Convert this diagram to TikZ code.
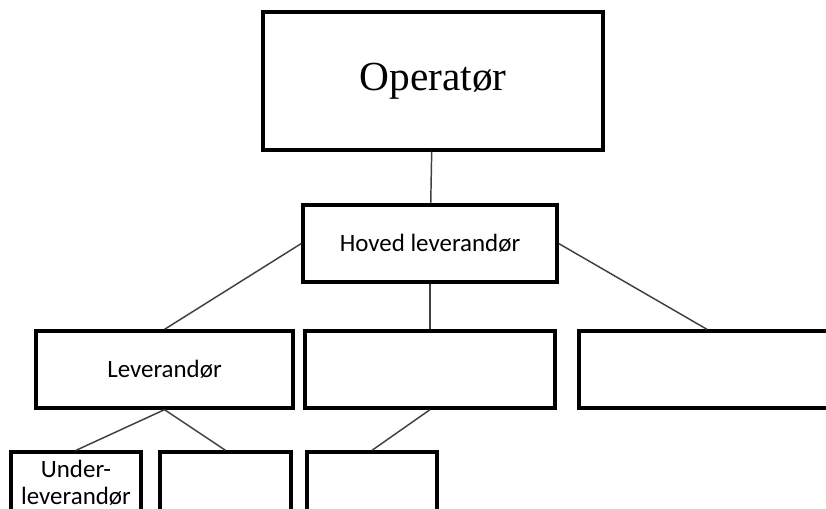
\documentclass[tikz,border=0pt]{standalone}
\usepackage{fontspec}
\setmainfont{Carlito}
\newfontfamily\oprfont{Liberation Serif}
\usepackage{tikz}
\usetikzlibrary{positioning}

\begin{document}
\begin{tikzpicture}[x=0.75pt, y=-0.75pt, font=\fontsize{18.7}{20.5}\selectfont]
	\tikzstyle{box} = [draw=black, line width=2.5pt, rectangle, minimum height=57.75pt, align=center]
	\tikzstyle{link} = [draw=black!75, line width=1.1pt]

	\clip (0, 0) rectangle (826, 508);

	\node[box, minimum width=255pt, minimum height=103.5pt, font=\oprfont\fontsize{31}{37}\selectfont]
							at (433, 81)	(opr)	{Operatør};
	\node[box, minimum width=190.5pt]	at (430, 243.5)	(hoved)	{Hoved leverandør};
	\node[box, minimum width=192.75pt]	at (164.5, 369.5)	(lev)	{Leverandør};
	\node[box, minimum width=187.5pt]	at (430, 369.5)	(mid)	{};
	\node[box, minimum width=192pt]	at (707, 369.5)	(rgt)	{};
	\node[box, minimum width=97.5pt, minimum height=46.5pt]
							at (76, 483)	(under)	{Under-\\leverandør};
	\node[box, minimum width=98.25pt, minimum height=46.5pt]
							at (225.5, 483)	(sub2)	{};
	\node[box, minimum width=97.5pt, minimum height=46.5pt]
							at (372, 483)	(sub3)	{};

	\path[link]
	(opr)	edge		(hoved)
	(hoved.west)	edge		(lev.north)
	(hoved.south)	edge		(mid.north)
	(hoved.east)	edge		(rgt.north)
	(lev.south)	edge		(under.north)
	(lev.south)	edge		(sub2.north)
	(mid.south)	edge		(sub3.north);
\end{tikzpicture}
\end{document}
